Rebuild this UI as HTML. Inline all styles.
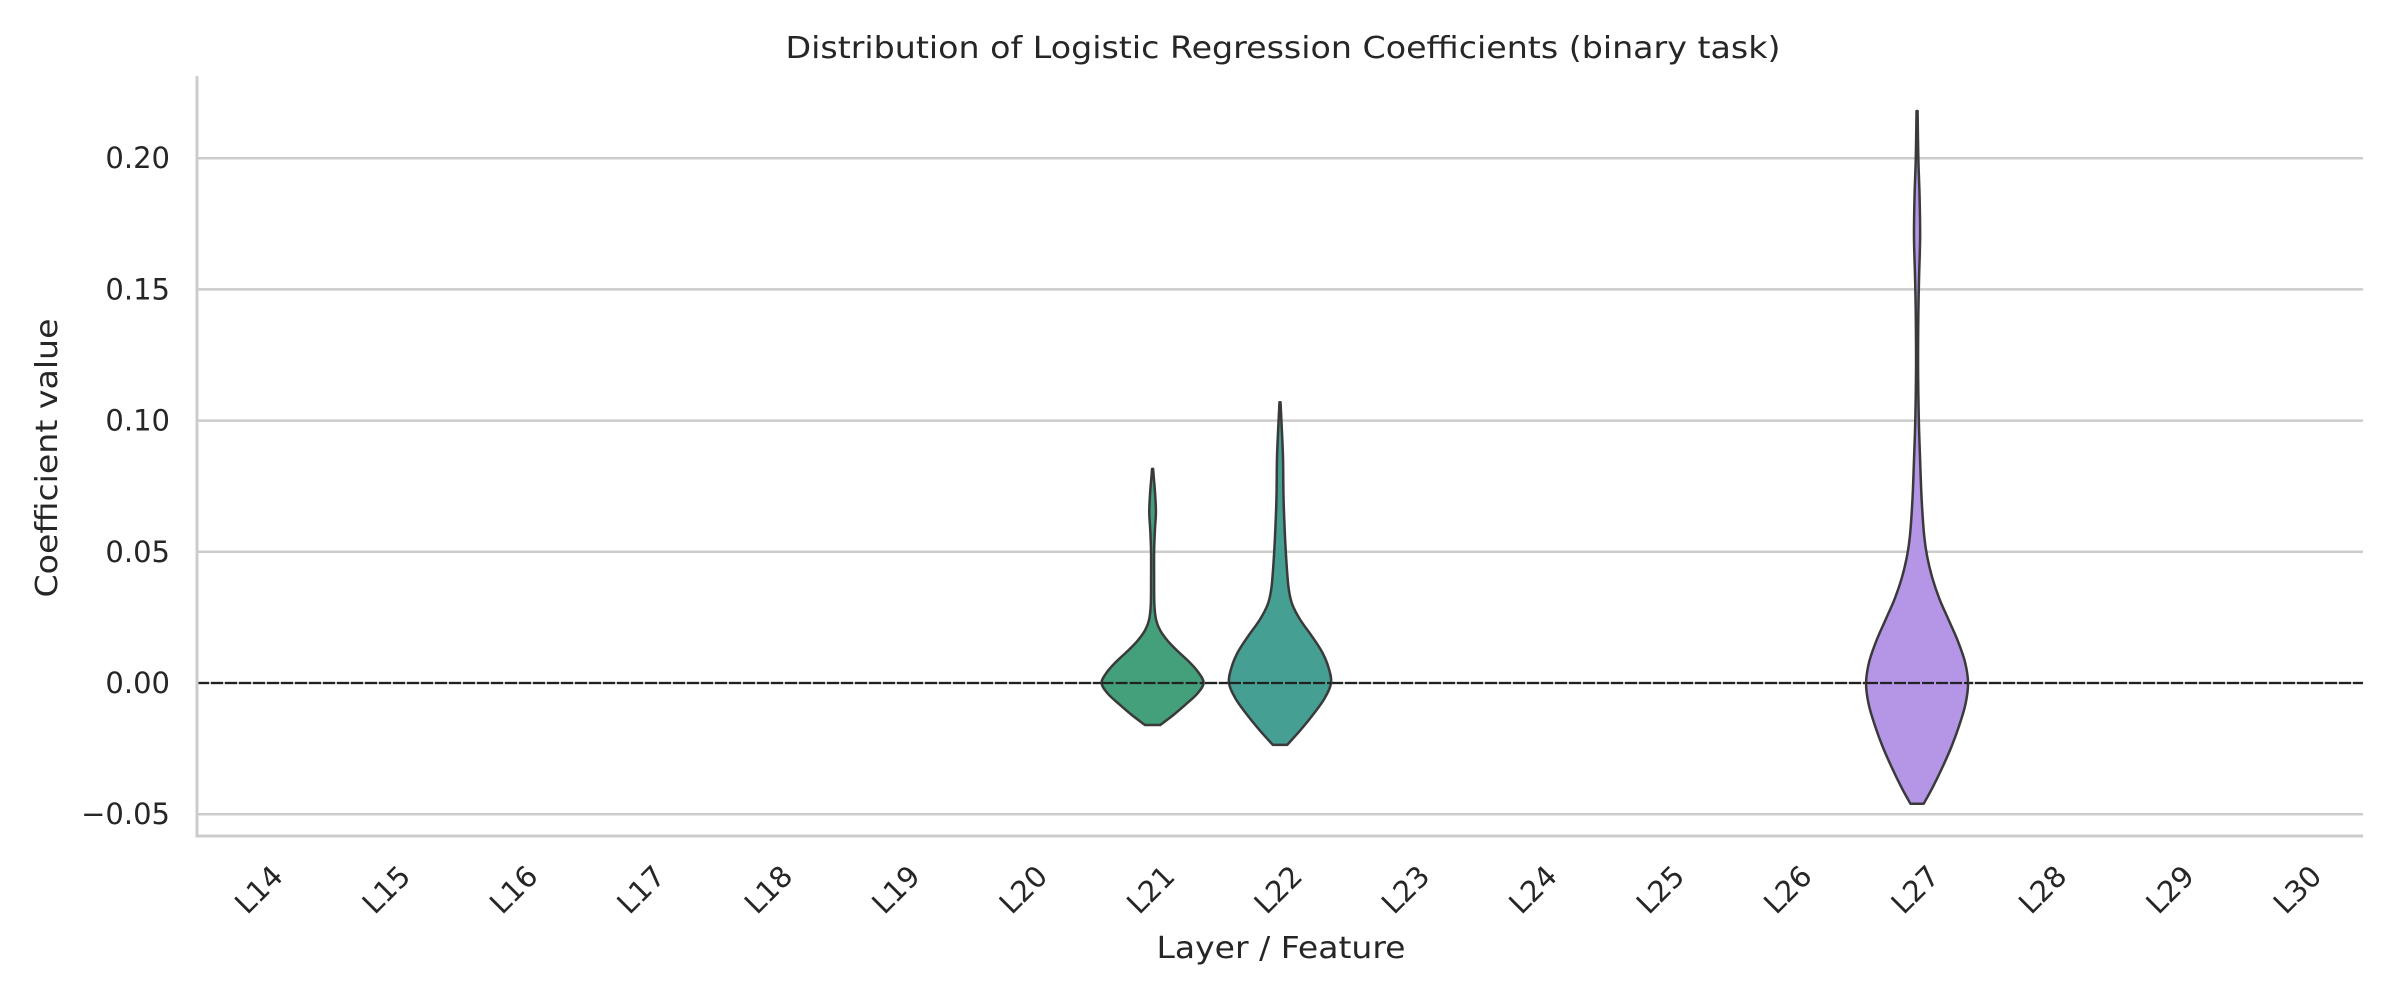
<!DOCTYPE html>
<html><head><meta charset="utf-8"><style>
html,body{margin:0;padding:0;background:#fff;}
svg{display:block;font-family:"DejaVu Sans","Liberation Sans",sans-serif;}
</style></head><body>
<svg id="chart" width="2400" height="1000" viewBox="0 0 2400 1000" xmlns="http://www.w3.org/2000/svg">
<text x="1283" y="58" text-anchor="middle" font-size="30" fill="#262626" textLength="995" lengthAdjust="spacingAndGlyphs">Distribution of Logistic Regression Coefficients (binary task)</text>
<text transform="translate(57,458) rotate(-90)" text-anchor="middle" font-size="30" fill="#262626" textLength="279" lengthAdjust="spacingAndGlyphs">Coefficient value</text>
<text x="1281" y="958" text-anchor="middle" font-size="30" fill="#262626" textLength="249" lengthAdjust="spacingAndGlyphs">Layer / Feature</text>
<g id="grid"></g><g id="violins"></g><g id="axes"></g>
</svg>
<script>
const categories = ["L14","L15","L16","L17","L18","L19","L20","L21","L22","L23","L24","L25","L26","L27","L28","L29","L30"];
const yTicks = [-0.05, 0, 0.05, 0.10, 0.15, 0.20];
const yTickLabels = ["\u22120.05","0.00","0.05","0.10","0.15","0.20"];
const violinCats = ["L21","L22","L27"];
const violinColors = ["#43a07a","#459f93","#b495e6"];
const l21Values = [-0.016,-0.012,-0.008,-0.004,0,0.004,0.008,0.012,0.016,0.02,0.024,0.03,0.04,0.05,0.058,0.065,0.072,0.078,0.0816];
const l21Width  = [0.15,0.42,0.66,0.88,1.0,0.9,0.72,0.5,0.3,0.15,0.07,0.035,0.03,0.03,0.045,0.065,0.05,0.025,0.01];
const l22Values = [-0.0236,-0.018,-0.012,-0.006,0,0.006,0.012,0.018,0.024,0.03,0.036,0.045,0.055,0.07,0.085,0.095,0.107];
const l22Width  = [0.14,0.4,0.65,0.87,1.0,0.95,0.82,0.62,0.4,0.24,0.17,0.13,0.1,0.07,0.06,0.04,0.01];
const l27Values = [-0.046,-0.04,-0.032,-0.024,-0.016,-0.008,0,0.008,0.016,0.024,0.032,0.04,0.048,0.056,0.07,0.085,0.1,0.12,0.14,0.155,0.17,0.185,0.2,0.218];
const l27Width  = [0.13,0.3,0.5,0.68,0.83,0.95,1.0,0.94,0.8,0.62,0.44,0.3,0.2,0.14,0.09,0.06,0.035,0.02,0.025,0.04,0.06,0.05,0.025,0.01];
const violinValues = [l21Values,l22Values,l27Values];
const violinWidths = [l21Width,l22Width,l27Width];

const NS="http://www.w3.org/2000/svg";
const X0=197, X1=2363, Y0VAL=683, PXU=2624, HALF=51;
const bandW=(X1-X0)/categories.length;
function xScale(c){return X0+bandW*(categories.indexOf(c)+0.5);}
function yScale(v){return Y0VAL - v*PXU;}
function mk(tag,attrs,parent){const e=document.createElementNS(NS,tag);for(const k in attrs)e.setAttribute(k,attrs[k]);parent.appendChild(e);return e;}
const grid=document.getElementById('grid'), axes=document.getElementById('axes'), vg=document.getElementById('violins');
yTicks.forEach((t,i)=>{
  const l=mk('line',{x1:X0,x2:X1,y1:yScale(t),y2:yScale(t),stroke:'#cccccc','stroke-width':2.5},grid);
  
  
  const tx=mk('text',{x:170,y:yScale(t)+10,'text-anchor':'end','font-size':29,fill:'#262626'},axes);
  tx.textContent=yTickLabels[i];
  
  
});
const sy=mk('line',{x1:X0,x2:X0,y1:76,y2:837,stroke:'#cccccc','stroke-width':3},axes);


const sx=mk('line',{x1:X0-1.5,x2:X1,y1:836,y2:836,stroke:'#cccccc','stroke-width':3},axes);


categories.forEach(c=>{
  const x=xScale(c);
  const tx=mk('text',{x:0,y:0,'text-anchor':'end','font-size':29,fill:'#262626',transform:`translate(${x+24},878) rotate(-45)`},axes);
  tx.textContent=c;
  
  
});
const zl=mk('line',{x1:X0,x2:X1,y1:yScale(0),y2:yScale(0),stroke:'#222','stroke-width':2.2,'stroke-dasharray':'12,2'},vg);


function smooth(pts){
  let d=`M${pts[0][0]},${pts[0][1]}`;
  for(let i=0;i<pts.length-1;i++){
    const p0=pts[Math.max(0,i-1)],p1=pts[i],p2=pts[i+1],p3=pts[Math.min(pts.length-1,i+2)];
    const c1=[p1[0]+(p2[0]-p0[0])/6,p1[1]+(p2[1]-p0[1])/6];
    const c2=[p2[0]-(p3[0]-p1[0])/6,p2[1]-(p3[1]-p1[1])/6];
    d+=` C${c1[0]},${c1[1]} ${c2[0]},${c2[1]} ${p2[0]},${p2[1]}`;
  }
  return d;
}
violinCats.forEach((c,k)=>{
  const cx=xScale(c), vals=violinValues[k], ws=violinWidths[k];
  const right=vals.map((v,i)=>[cx+ws[i]*HALF,yScale(v)]);
  const left=vals.map((v,i)=>[cx-ws[i]*HALF,yScale(v)]).reverse();
  let d=smooth(right);
  d+=` L${left[0][0]},${left[0][1]} `+smooth(left).replace(/^M[^C]*/,'')+' Z';
  const p=mk('path',{d:d,fill:violinColors[k],stroke:'#3a3a3a','stroke-width':2.5,'stroke-linejoin':'round'},vg);
  
  
  const zl2=mk('line',{x1:cx-HALF,x2:cx+HALF,y1:yScale(0),y2:yScale(0),stroke:'#222','stroke-width':2.2,'stroke-dasharray':'12,2'},vg);
  
  
});
</script>
</body></html>
